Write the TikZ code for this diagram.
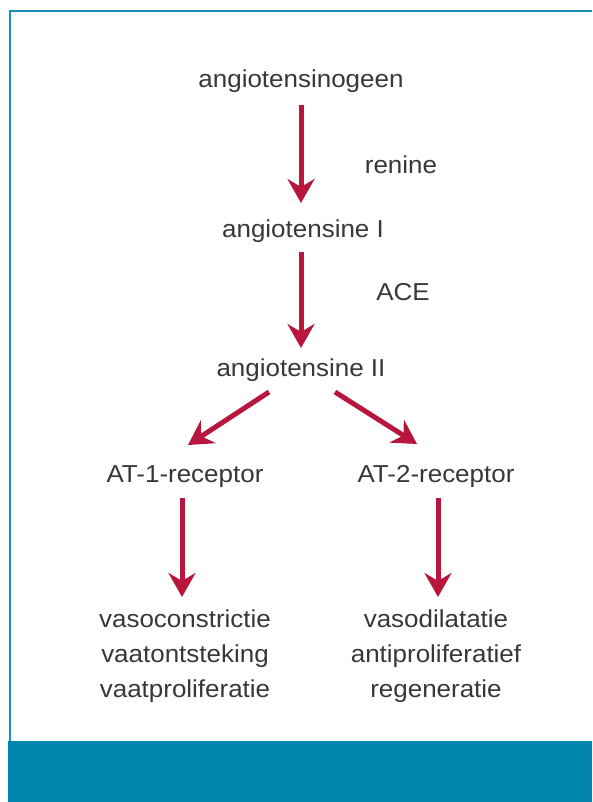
\documentclass[tikz,border=0pt]{standalone}
\usepackage{fontspec}
\setmainfont{Liberation Sans}[FakeStretch=1.06]
\usetikzlibrary{arrows.meta}
\definecolor{arrred}{RGB}{184,22,60}
\definecolor{framblue}{RGB}{0,133,173}
\definecolor{lineblue}{RGB}{24,145,185}
\tikzset{
  lbl/.style={anchor=base, inner sep=0pt, text=black!78, font=\fontsize{24.5}{30}\selectfont},
  arr/.style={draw=arrred, line width=5pt, -{Stealth[length=24pt,width=27pt,inset=8pt]}, fill=arrred}
}
\begin{document}
\begin{tikzpicture}[x=1pt,y=-1pt]
\useasboundingbox (0,0) rectangle (592,802);
\fill[white] (0,0) rectangle (592,802);
% frame
\draw[lineblue, line width=2.5pt] (10,741) -- (10,11) -- (592,11);
\fill[framblue] (8,741) rectangle (592,802);
% nodes
\node[lbl] (ag) at (301,88) {angiotensinogeen};
\node[lbl] (ren) at (401,174) {renine};
\node[lbl] (a1) at (303,237) {angiotensine I};
\node[lbl] (ace) at (403,300) {ACE};
\node[lbl] (a2) at (301,376) {angiotensine II};
\node[lbl] (at1) at (185,482) {AT-1-receptor};
\node[lbl] (at2) at (436,482) {AT-2-receptor};
\node[lbl, align=center, font=\fontsize{24.5}{35}\selectfont] (eff1) at (185,697) {vasoconstrictie\\vaatontsteking\\vaatproliferatie};
\node[lbl, align=center, font=\fontsize{24.5}{35}\selectfont] (eff2) at (436,697) {vasodilatatie\\antiproliferatief\\regeneratie};
% arrows
\draw[arr] ([yshift=-17pt]ag.base) -- ([xshift=-2pt,yshift=34pt]a1.base);
\draw[arr] ([xshift=-2pt,yshift=-15pt]a1.base) -- ([yshift=28pt]a2.base);
\draw[arr] ([xshift=-32pt,yshift=-16pt]a2.base) -- ([xshift=3pt,yshift=37pt]at1.base);
\draw[arr] ([xshift=34pt,yshift=-16pt]a2.base) -- ([xshift=-19pt,yshift=38pt]at2.base);
\draw[arr] ([xshift=-3pt,yshift=-16pt]at1.base) -- ([xshift=-3pt,yshift=100pt]eff1.base);
\draw[arr] ([xshift=2pt,yshift=-16pt]at2.base) -- ([xshift=2pt,yshift=100pt]eff2.base);
\end{tikzpicture}
\end{document}
